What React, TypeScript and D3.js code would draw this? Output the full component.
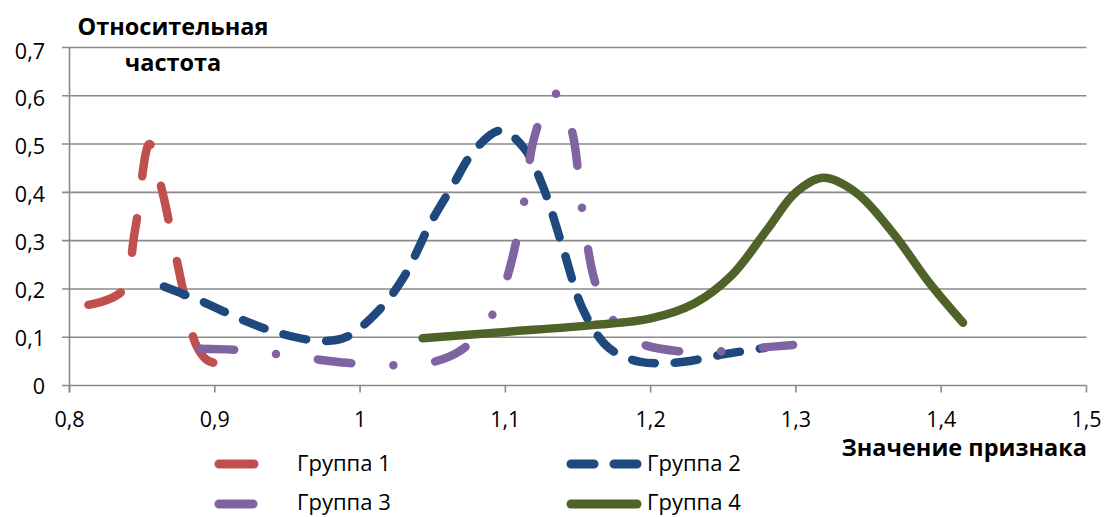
import React from "react";
import * as d3 from "d3";

const xTicks = [0.8, 0.9, 1.0, 1.1, 1.2, 1.3, 1.4, 1.5];
const xTickLabels = ["0,8", "0,9", "1", "1,1", "1,2", "1,3", "1,4", "1,5"];
const yTicks = [0, 0.1, 0.2, 0.3, 0.4, 0.5, 0.6, 0.7];
const yTickLabels = ["0", "0,1", "0,2", "0,3", "0,4", "0,5", "0,6", "0,7"];

const seriesNames = ["Группа 1", "Группа 2", "Группа 3", "Группа 4"];

const g1x = [0.813, 0.836, 0.845, 0.855, 0.864, 0.878, 0.887, 0.895, 0.906];
const g1y = [0.167, 0.195, 0.32, 0.5, 0.4, 0.2, 0.085, 0.052, 0.044];

const g2x = [0.865, 0.892, 0.919, 0.945, 0.974, 0.991, 1.013, 1.03, 1.049, 1.063, 1.079, 1.097, 1.113, 1.126, 1.139, 1.153, 1.168, 1.179, 1.193, 1.207, 1.223, 1.251, 1.279];
const g2y = [0.205, 0.173, 0.136, 0.108, 0.092, 0.101, 0.156, 0.224, 0.339, 0.41, 0.488, 0.528, 0.491, 0.411, 0.291, 0.16, 0.087, 0.063, 0.049, 0.046, 0.049, 0.065, 0.078];

const g3x = [0.89, 0.913, 0.94, 0.968, 0.991, 1.02, 1.048, 1.07, 1.089, 1.1, 1.112, 1.12, 1.133, 1.145, 1.153, 1.162, 1.174, 1.191, 1.219, 1.248, 1.27, 1.298];
const g3y = [0.076, 0.074, 0.066, 0.055, 0.047, 0.042, 0.047, 0.074, 0.136, 0.212, 0.365, 0.515, 0.607, 0.536, 0.363, 0.212, 0.136, 0.09, 0.071, 0.071, 0.077, 0.084];

const g4x = [1.043, 1.1, 1.16, 1.2, 1.23, 1.256, 1.28, 1.3, 1.319, 1.342, 1.367, 1.392, 1.415];
const g4y = [0.098, 0.111, 0.125, 0.139, 0.17, 0.229, 0.322, 0.4, 0.43, 0.398, 0.315, 0.212, 0.13];

const colors = ["#C0504D", "#1F497D", "#8064A2", "#4F6228"];
const dashes = ["35 42", "23 20", "34 42 0 42", "none"];

const W = 1106;
const H = 517;
const FONT = "'Open Sans', 'Noto Sans', sans-serif";

export default function App() {
  const x = d3.scaleLinear().domain([0.8, 1.5]).range([69.5, 1086.5]);
  const y = d3.scaleLinear().domain([0, 0.7]).range([385.5, 47.5]);

  const series = [
    d3.zip(g1x, g1y),
    d3.zip(g2x, g2y),
    d3.zip(g3x, g3y),
    d3.zip(g4x, g4y),
  ] as [number, number][][];

  const line = d3
    .line<[number, number]>()
    .x((d) => x(d[0]))
    .y((d) => y(d[1]))
    .curve(d3.curveCatmullRom.alpha(0.5));

  const legendItems = [
    { lx: 219, tx: 297, ly: 464, ty: 471 },
    { lx: 571, tx: 647, ly: 464, ty: 471 },
    { lx: 219, tx: 297, ly: 504, ty: 510 },
    { lx: 571, tx: 647, ly: 504, ty: 510 },
  ];

  return (
    <svg
      width={W}
      height={H}
      style={{ position: "absolute", left: 0, top: 0, background: "#fff" }}
      fontFamily={FONT}
    >
      <rect x={0} y={0} width={W} height={H} fill="#fff" />
      {yTicks.map((t, i) => (
        <g key={"y" + i}>
          <line x1={62} x2={x(1.5)} y1={y(t)} y2={y(t)} stroke="#8a8a8a" strokeWidth={1.6} />
          <text x={45} y={y(t) + 8 + 3 * (t / 0.7)} textAnchor="end" fontSize={21.5} fill="#000">
            {yTickLabels[i]}
          </text>
        </g>
      ))}
      <line x1={x(0.8)} x2={x(0.8)} y1={y(0.7)} y2={y(0) + 7} stroke="#8a8a8a" strokeWidth={1.6} />
      {xTicks.map((t, i) => (
        <g key={"x" + i}>
          <line x1={x(t)} x2={x(t)} y1={y(0)} y2={y(0) + 7} stroke="#8a8a8a" strokeWidth={1.6} />
          <text x={x(t)} y={427} textAnchor="middle" fontSize={21.5} fill="#000">
            {xTickLabels[i]}
          </text>
        </g>
      ))}
      {series.map((s, i) => (
        <path
          key={"s" + i}
          d={line(s) || ""}
          fill="none"
          stroke={colors[i]}
          strokeWidth={8.5}
          strokeLinecap="round"
          strokeLinejoin="round"
          strokeDasharray={dashes[i]}
        />
      ))}
      <text x={173} y={35} textAnchor="middle" fontSize={23.5} fontWeight="bold" fill="#000">
        Относительная
      </text>
      <text x={173} y={71} textAnchor="middle" fontSize={23.5} fontWeight="bold" fill="#000">
        частота
      </text>
      <text x={1087} y={456} textAnchor="end" fontSize={23.5} fontWeight="bold" fill="#000">
        Значение признака
      </text>
      {legendItems.map((l, i) => (
        <g key={"l" + i}>
          <line
            x1={l.lx}
            x2={l.lx + 66}
            y1={l.ly}
            y2={l.ly}
            stroke={colors[i]}
            strokeWidth={9}
            strokeLinecap="round"
            strokeDasharray={dashes[i]}
          />
          <text x={l.tx} y={l.ty} fontSize={22} fill="#000">
            {seriesNames[i]}
          </text>
        </g>
      ))}
    </svg>
  );
}
